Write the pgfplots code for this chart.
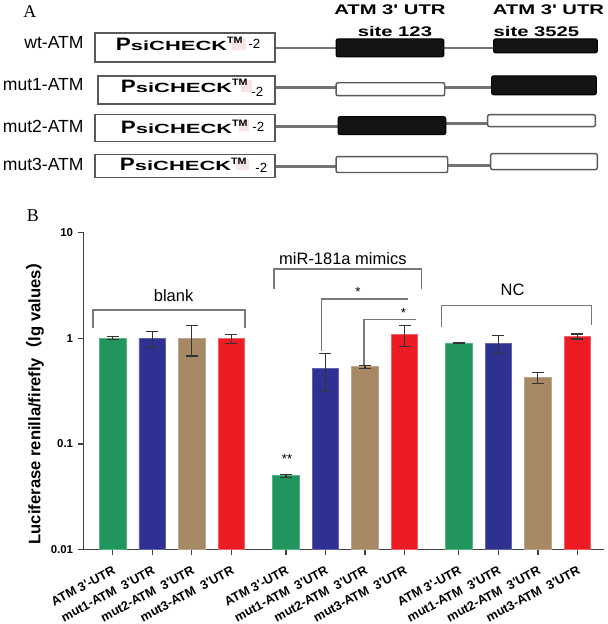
\documentclass[border=0pt]{standalone}
\usepackage{fontspec}
\setmainfont{Liberation Sans}
\newfontfamily\seriffont{Liberation Serif}
\newfontfamily\cjk{Noto Sans CJK SC}
\usepackage{graphicx}
\usepackage{pgfplots}
\pgfplotsset{compat=1.18}

\definecolor{cgreen}{RGB}{32,150,92}
\definecolor{cblue}{RGB}{46,49,146}
\definecolor{ctan}{RGB}{166,137,100}
\definecolor{cred}{RGB}{237,28,36}
\definecolor{lgray}{RGB}{120,120,120}
\definecolor{pinkish}{RGB}{248,228,228}

\newcommand{\psicheck}{{\bfseries\scalebox{1.25}[1]{\fontsize{13.5}{15}\selectfont P}\scalebox{1.65}[1]{\fontsize{10}{12}\selectfont siCHECK}\raisebox{0.5em}{\scalebox{1.15}[1]{\fontsize{7}{8}\selectfont TM}}}}
\newcommand{\q}{\textquotesingle}

\pgfplotsset{mybar/.style={ybar, bar width=0.67, bar shift=0pt, line width=0.5pt,
    error bars/y dir=both, error bars/y explicit,
    error bars/error bar style={line width=0.9pt, black!80},
    error bars/error mark options={rotate=90, mark size=4.5pt, line width=0.9pt, black!80}}}

\begin{document}
\begin{tikzpicture}
\begin{scope}[x=0.75pt,y=-0.75pt]
\path[use as bounding box] (0,0) rectangle (609,624);
\tikzset{conn/.style={draw=black!55, line width=1.9pt},
  vbox/.style={draw=black!65, line width=1.2pt, fill=white},
  blk/.style={draw=black, fill=black!92, line width=0.8pt, rounded corners=1.5pt},
  wht/.style={draw=black!65, fill=white, line width=1.1pt, rounded corners=1.5pt}}
% panel letters
\node[font=\seriffont\fontsize{13.5}{15}\selectfont] at (30,12) {A};
\node[font=\seriffont\fontsize{13.5}{15}\selectfont] at (33,216) {B};
% headers
\node[font=\bfseries\fontsize{10.5}{12}\selectfont] at (391,10) {\scalebox{1.45}[1]{ATM 3\q{} UTR}};
\node[font=\bfseries\fontsize{10.5}{12}\selectfont] at (550,10) {\scalebox{1.45}[1]{ATM 3\q{} UTR}};
\node[font=\bfseries\fontsize{10.5}{12}\selectfont] at (396,32) {\scalebox{1.45}[1]{site 123}};
\node[font=\bfseries\fontsize{10.5}{12}\selectfont] at (538,32) {\scalebox{1.45}[1]{site 3525}};
% connectors
\draw[conn] (276,48) -- (337,48); \draw[conn] (445,48) -- (495,48);
\draw[conn] (276,88) -- (337,88); \draw[conn] (446,88) -- (493,88);
\draw[conn] (276,127) -- (339,127); \draw[conn] (447,124) -- (489,124);
\draw[conn] (276,167) -- (337,167); \draw[conn] (449,166) -- (492,166);
% row 1
\draw[vbox] (95,33) rectangle (276,62);
\draw[blk] (337,39) rectangle (445,57);
\draw[blk] (495,39) rectangle (599,53);
% row 2
\draw[vbox] (98,76) rectangle (276,104);
\draw[wht] (337,83) rectangle (446,96);
\draw[blk] (493,76) rectangle (598,95);
% row 3
\draw[vbox] (95,115) rectangle (276,142);
\draw[blk] (339,117) rectangle (447,135);
\draw[wht] (489,115) rectangle (597,127);
% row 4
\draw[vbox] (95,155) rectangle (276,178);
\draw[wht] (337,157) rectangle (449,173);
\draw[wht] (492,154) rectangle (599,170);
% pink artefacts
\fill[pinkish] (233,38) rectangle (247,50);
\fill[pinkish] (242,80) rectangle (253,92);
\fill[pinkish] (240,120) rectangle (250,131);
\fill[pinkish] (237,159) rectangle (250,170);
% psicheck labels
\node[anchor=west, inner sep=0] at (116,44) {\psicheck};
\node[anchor=west, inner sep=0] at (121,86) {\psicheck};
\node[anchor=west, inner sep=0] at (121,127) {\psicheck};
\node[anchor=west, inner sep=0] at (120,165) {\psicheck};
\node[font=\fontsize{10}{11}\selectfont] at (255,44) {-2};
\node[font=\fontsize{10}{11}\selectfont] at (258,92) {-2};
\node[font=\fontsize{10}{11}\selectfont] at (259,127) {-2};
\node[font=\fontsize{10}{11}\selectfont] at (262,168) {-2};
% row labels
\node[anchor=east, inner sep=0, font=\fontsize{13.2}{15}\selectfont] at (84,43) {wt-ATM};
\node[anchor=east, inner sep=0, font=\fontsize{13.2}{15}\selectfont] at (84,85) {mut1-ATM};
\node[anchor=east, inner sep=0, font=\fontsize{13.2}{15}\selectfont] at (84,127) {mut2-ATM};
\node[anchor=east, inner sep=0, font=\fontsize{13.2}{15}\selectfont] at (84,165) {mut3-ATM};
% y label
\node[rotate=90, font=\bfseries\fontsize{12.5}{14}\selectfont] at (35,400) {Luciferase renilla/firefly{\cjk （}lg values{\cjk ）}};
\end{scope}

\begin{axis}[
  at={(63pt,-413.25pt)}, anchor=south west,
  scale only axis, width=391.5pt, height=238.3pt,
  xmin=-0.731, xmax=12.43,
  ymode=log, ymin=0.01, ymax=10, log origin y=infty,
  axis x line*=bottom, axis y line*=left,
  axis line style={line width=1.1pt, black!75},
  xtick={0,1,2,3,4.38,5.38,6.38,7.38,8.75,9.75,10.75,11.75},
  xticklabels={ATM 3\q-UTR, mut1-ATM\ \ 3\q UTR, mut2-ATM\ \ 3\q UTR, mut3-ATM\ \ 3\q UTR,
               ATM 3\q-UTR, mut1-ATM\ \ 3\q UTR, mut2-ATM\ \ 3\q UTR, mut3-ATM\ \ 3\q UTR,
               ATM 3\q-UTR, mut1-ATM\ \ 3\q UTR, mut2-ATM\ \ 3\q UTR, mut3-ATM\ \ 3\q UTR},
  ytick={0.01,0.1,1,10}, yticklabels={0.01,0.1,1,10},
  yminorticks=false,
  tick align=outside, major tick length=4.5pt,
  tick style={line width=1pt, black!75},
  yticklabel style={font=\bfseries\fontsize{8.6}{9}\selectfont},
  xticklabel style={font=\bfseries\fontsize{9.5}{10}\selectfont, rotate=28, anchor=north east, inner sep=1pt},
  xticklabel shift=6pt,
  clip=false,
]
\addplot[mybar, fill=cgreen, draw=cgreen!75!white] coordinates {
 (0,1.0) += (0,0.035) -= (0,0.035)
 (4.38,0.0499) += (0,0.0017) -= (0,0.0022)
 (8.75,0.903) += (0,0.007) -= (0,0.003)
};
\addplot[mybar, fill=cblue, draw=cblue!75!white] coordinates {
 (1,1.0) += (0,0.16) -= (0,0.18)
 (5.38,0.521) += (0,0.20) -= (0,0.20)
 (9.75,0.889) += (0,0.17) -= (0,0.17)
};
\addplot[mybar, fill=ctan, draw=ctan!75!white] coordinates {
 (2,1.0) += (0,0.31) -= (0,0.32)
 (6.38,0.54) += (0,0.016) -= (0,0.023)
 (10.75,0.425) += (0,0.048) -= (0,0.049)
};
\addplot[mybar, fill=cred, draw=cred!70!white] coordinates {
 (3,1.0) += (0,0.09) -= (0,0.11)
 (7.38,1.08) += (0,0.25) -= (0,0.25)
 (11.75,1.044) += (0,0.055) -= (0,0.06)
};
% group brackets
\draw[lgray, line width=1.1pt] (axis cs:-0.5,1.25) |- (axis cs:3.35,1.86) -- (axis cs:3.35,1.25);
\draw[lgray, line width=1.1pt] (axis cs:4.08,2.92) |- (axis cs:7.81,4.51) -- (axis cs:7.81,2.92);
\draw[lgray, line width=1.1pt] (axis cs:8.31,1.27) |- (axis cs:12.11,2.03) -- (axis cs:12.11,1.33);
\draw[lgray, line width=1.1pt] (axis cs:5.28,0.764) |- (axis cs:7.47,2.35);
\draw[lgray, line width=1.1pt] (axis cs:6.35,0.56) |- (axis cs:7.67,1.50);
\node[font=\fontsize{12.4}{14}\selectfont] at (axis cs:1.54,2.56) {blank};
\node[font=\fontsize{12.4}{14}\selectfont] at (axis cs:5.82,5.72) {miR-181a mimics};
\node[font=\fontsize{12.4}{14}\selectfont] at (axis cs:10.11,2.86) {NC};
\node[font=\fontsize{10}{12}\selectfont, yshift=-2pt] at (axis cs:6.2,2.92) {*};
\node[font=\fontsize{10}{12}\selectfont, yshift=-2pt] at (axis cs:7.35,1.86) {*};
\node[font=\fontsize{10}{12}\selectfont, yshift=-2pt] at (axis cs:4.41,0.0764) {**};
\end{axis}
\end{tikzpicture}
\end{document}
